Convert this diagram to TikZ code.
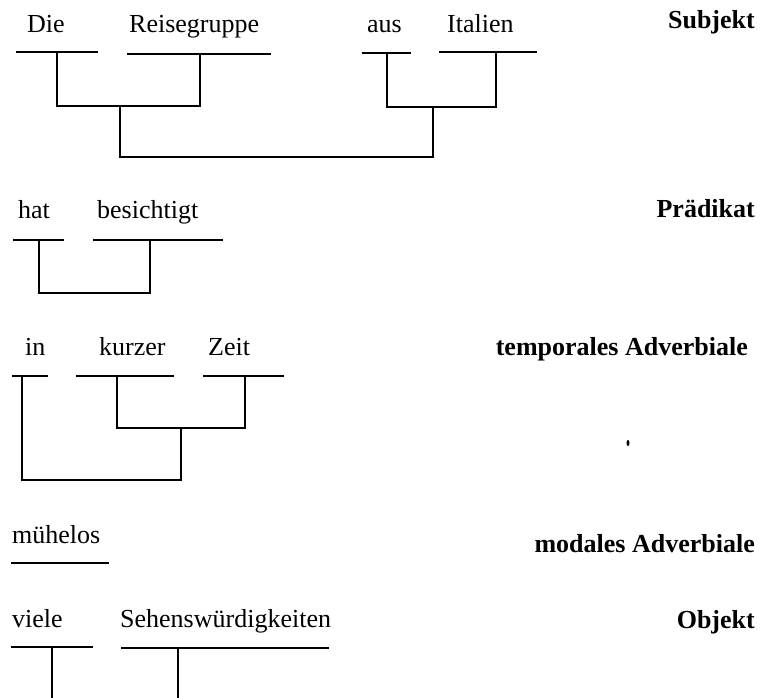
\documentclass[tikz,border=0pt]{standalone}
\usepackage{fontspec}
\setmainfont{Liberation Serif}
\begin{document}
\begin{tikzpicture}[x=1pt,y=-1pt,
  word/.style={anchor=base west, inner sep=0pt, font=\fontsize{26}{30}\selectfont},
  lab/.style={anchor=base east, inner sep=0pt, font=\fontsize{26}{30}\selectfont\bfseries},
  ln/.style={line width=1.3pt, line cap=rect}]
\useasboundingbox (0,0) rectangle (761,697);
\fill[white] (0,0) rectangle (761,697);
% Subjekt
\node[word] (die) at (27,32) {Die};
\node[word] (reise) at (129,32) {Reisegruppe};
\node[word] (aus) at (367,32) {aus};
\node[word] (ital) at (447,32) {Italien};
\node[lab] (subj) at (755,28) {Subjekt};
\draw[ln] (17,52) -- (97,52);
\draw[ln] (128,54) -- (270,54);
\draw[ln] (363,53) -- (410,53);
\draw[ln] (440,52) -- (536,52);
\draw[ln] (57,52) |- (200,106) coordinate (j1r) -- (200,54);
\draw[ln] (387,53) |- (496,107) -- (496,52);
\draw[ln] (120,106) |- (433,157) -- (433,107);
% Praedikat
\node[word] (hat) at (18,218) {hat};
\node[word] (besi) at (97,218) {besichtigt};
\node[lab] (praed) at (755,217) {Prädikat};
\draw[ln] (14,240) -- (63,240);
\draw[ln] (94,240) -- (222,240);
\draw[ln] (39,240) |- (150,293) -- (150,240);
% temporales Adverbiale
\node[word] (in) at (25,355) {in};
\node[word] (kurz) at (99,355) {kurzer};
\node[word] (zeit) at (208,355) {Zeit};
\node[lab] (temp) at (748,355) {temporales Adverbiale};
\draw[ln] (13,376) -- (47,376);
\draw[ln] (77,376) -- (173,376);
\draw[ln] (204,376) -- (283,376);
\draw[ln] (117,376) |- (245,428) -- (245,376);
\draw[ln] (22,376) |- (181,480) -- (181,428);
\fill (628,443) ellipse (1.5pt and 3pt);
% modales Adverbiale
\node[word] (mueh) at (12,543) {mühelos};
\node[lab] (mod) at (755,552) {modales Adverbiale};
\draw[ln] (12,563) -- (108,563);
% Objekt
\node[word] (viele) at (12,627) {viele};
\node[word] (sehens) at (120,627) {Sehenswürdigkeiten};
\node[lab] (obj) at (755,628) {Objekt};
\draw[ln] (12,647) -- (92,647);
\draw[ln] (122,648) -- (328,648);
\draw[ln] (52,647) -- (52,700);
\draw[ln] (178,648) -- (178,700);
\end{tikzpicture}
\end{document}
